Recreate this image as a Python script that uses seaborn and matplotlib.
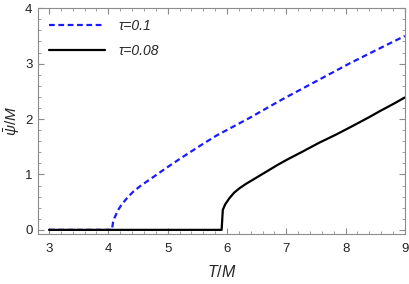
import numpy as np
import pandas as pd
import matplotlib
matplotlib.use("Agg")
import matplotlib.pyplot as plt
from matplotlib.ticker import MultipleLocator
import seaborn as sns

# tau = 0.1 (blue dashed)
T_01 = [3.0, 4.06, 4.08, 4.11, 4.16, 4.22, 4.32, 4.42, 4.55, 4.70, 4.98, 5.26,
        5.55, 5.82, 6.10, 6.38, 6.66, 6.94, 7.22, 7.50, 7.78, 8.06, 8.34,
        8.62, 9.0]
psi_01 = [0.0, 0.0, 0.14, 0.23, 0.35, 0.45, 0.58, 0.69, 0.80, 0.91, 1.12, 1.32,
          1.52, 1.70, 1.86, 2.02, 2.19, 2.36, 2.52, 2.68, 2.84, 3.00, 3.15,
          3.30, 3.50]

# tau = 0.08 (black solid)
T_008 = [3.0, 5.91, 5.93, 5.97, 6.04, 6.12, 6.21, 6.32, 6.43, 6.57, 6.71,
         6.85, 7.0, 7.27, 7.55, 7.84, 8.11, 8.39, 8.59, 8.80, 9.0]
psi_008 = [0.0, 0.0, 0.36, 0.46, 0.57, 0.67, 0.75, 0.83, 0.90, 0.99, 1.08,
           1.17, 1.26, 1.41, 1.57, 1.72, 1.87, 2.03, 2.15, 2.27, 2.39]

labels = ["τ=0.1", "τ=0.08"]

sns.set_style("ticks")
plt.rcParams['font.family'] = ['Liberation Sans', 'DejaVu Sans']
plt.rcParams['mathtext.fontset'] = 'custom'
plt.rcParams['mathtext.it'] = 'Liberation Sans:italic'
plt.rcParams['mathtext.rm'] = 'Liberation Sans'

fig = plt.figure(figsize=(4.09, 2.84), dpi=100)
ax = fig.add_axes([0.093, 0.175, 0.897, 0.796])

df1 = pd.DataFrame({"T": T_01, "psi": psi_01})
df2 = pd.DataFrame({"T": T_008, "psi": psi_008})
sns.lineplot(data=df1, x="T", y="psi", ax=ax, color="#1a1aff", lw=1.6,
             label=labels[0])
ax.lines[-1].set_dashes([2.6, 1.6])
sns.lineplot(data=df2, x="T", y="psi", ax=ax, color="black", lw=1.6,
             label=labels[1])

ax.set_xlim(2.815, 9.0)
ax.set_ylim(-0.08, 4.0)
ax.xaxis.set_major_locator(MultipleLocator(1))
ax.xaxis.set_minor_locator(MultipleLocator(0.2))
ax.yaxis.set_major_locator(MultipleLocator(1))
ax.yaxis.set_minor_locator(MultipleLocator(0.2))

frame = "#8c8c8c"
for s in ax.spines.values():
    s.set_color(frame)
    s.set_linewidth(0.8)
ax.tick_params(which="both", direction="in", top=True, right=True,
               color=frame, labelsize=9.5, labelcolor="#222222")
ax.tick_params(which="major", length=4, width=0.8)
ax.tick_params(axis="x", which="major", pad=6)
ax.tick_params(axis="y", which="major", pad=4)
ax.tick_params(which="minor", length=2, width=0.6)

ax.set_xlabel(r"$T/M$", fontsize=11.5, labelpad=7)
ax.set_ylabel(r"$\bar{\psi}/M$", fontsize=11, labelpad=2)

leg = ax.legend(loc="upper left", frameon=False, handlelength=4.0,
                prop={"style": "italic", "size": 10}, borderaxespad=0.4,
                labelspacing=0.75, handletextpad=1.0)

fig.savefig("out.png", dpi=100)
